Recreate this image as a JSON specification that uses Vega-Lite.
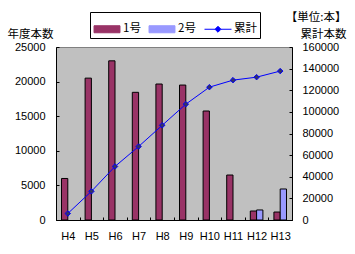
{
  "$schema": "https://vega.github.io/schema/vega-lite/v6.json",
  "width": 236,
  "height": 173,
  "autosize": "none",
  "padding": {"left": 56, "top": 47, "right": 63, "bottom": 34},
  "background": "white",
  "datasets": {
    "bars": [
      {"year": "H4", "series": "1号", "value": 6000},
      {"year": "H5", "series": "1号", "value": 20500},
      {"year": "H6", "series": "1号", "value": 23000},
      {"year": "H7", "series": "1号", "value": 18450},
      {"year": "H8", "series": "1号", "value": 19650},
      {"year": "H9", "series": "1号", "value": 19500},
      {"year": "H10", "series": "1号", "value": 15750},
      {"year": "H11", "series": "1号", "value": 6500},
      {"year": "H12", "series": "1号", "value": 1300},
      {"year": "H13", "series": "1号", "value": 1150},
      {"year": "H12", "series": "2号", "value": 1450},
      {"year": "H13", "series": "2号", "value": 4480}
    ],
    "cum": [
      {"year": "H4", "series": "累計", "total": 6000},
      {"year": "H5", "series": "累計", "total": 26500},
      {"year": "H6", "series": "累計", "total": 49500},
      {"year": "H7", "series": "累計", "total": 67950},
      {"year": "H8", "series": "累計", "total": 87600},
      {"year": "H9", "series": "累計", "total": 107100},
      {"year": "H10", "series": "累計", "total": 122850},
      {"year": "H11", "series": "累計", "total": 129350},
      {"year": "H12", "series": "累計", "total": 132100},
      {"year": "H13", "series": "累計", "total": 137730}
    ]
  },
  "config": {
    "view": {"fill": "#C0C0C0", "stroke": "#808080", "strokeWidth": 1},
    "axis": {
      "labelFont": "Liberation Sans",
      "labelFontSize": 11,
      "labelColor": "black",
      "domainColor": "black",
      "tickColor": "black",
      "grid": false,
      "titleFont": "Noto Sans CJK JP",
      "titleFontSize": 11.5,
      "titleFontWeight": "normal",
      "titleColor": "black"
    },
    "legend": {
      "labelFont": "Noto Sans CJK JP",
      "labelFontSize": 11.5,
      "labelColor": "black"
    }
  },
  "layer": [
    {
      "data": {"name": "bars"},
      "mark": {"type": "bar", "stroke": "black", "strokeWidth": 1},
      "encoding": {
        "x": {
          "field": "year", "type": "nominal", "sort": ["H4","H5","H6","H7","H8","H9","H10","H11","H12","H13"],
          "scale": {"domain": ["H4","H5","H6","H7","H8","H9","H10","H11","H12","H13"], "paddingInner": 0, "paddingOuter": 0},
          "axis": {"title": null, "labelAngle": 0, "tickBand": "extent", "tickSize": -3, "labelPadding": 13, "labelBaseline": "top"}
        },
        "xOffset": {
          "field": "series", "type": "nominal",
          "scale": {"domain": ["1号", "2号"], "paddingInner": 0, "paddingOuter": 0.875}
        },
        "y": {
          "field": "value", "type": "quantitative",
          "scale": {"domain": [0, 25000], "nice": false},
          "axis": {
            "orient": "left",
            "values": [0, 5000, 10000, 15000, 20000, 25000],
            "format": "d",
            "tickSize": -3,
            "labelPadding": 14,
            "title": "年度本数",
            "titleAngle": 0,
            "titleAlign": "left",
            "titleBaseline": "alphabetic",
            "titleX": -49,
            "titleY": -10
          }
        },
        "color": {
          "field": "series", "type": "nominal",
          "scale": {"domain": ["1号", "2号", "累計"], "range": ["#993366", "#9999FF", "#0000FF"]},
          "legend": {
            "title": null,
            "orient": "none",
            "legendX": 34,
            "legendY": -35,
            "direction": "horizontal",
            "symbolSize": 729,
            "symbolStrokeWidth": 1,
            "strokeColor": "black",
            "fillColor": "white",
            "padding": 3,
            "columnPadding": 6,
            "labelOffset": 2,
            "cornerRadius": 0,
            "encoding": {
              "symbols": {
                "shape": {"value": {"expr": "datum.value === '累計' ? 'M-1,0H-0.22M0.22,0H1M0,-0.22L0.22,0L0,0.22L-0.22,0Z' : 'M-0.96,-0.26H0.96V0.26H-0.96Z'"}},
                "fill": {"value": {"expr": "datum.value === '1号' ? '#993366' : datum.value === '2号' ? '#9999FF' : '#333366'"}},
                "stroke": {"value": {"expr": "datum.value === '累計' ? '#0000FF' : 'black'"}},
                "fillOpacity": {"value": 1},
                "opacity": {"value": 1},
                "strokeWidth": {"value": 1}
              }
            }
          }
        }
      }
    },
    {
      "data": {"name": "cum"},
      "encoding": {
        "x": {"field": "year", "type": "nominal", "sort": ["H4","H5","H6","H7","H8","H9","H10","H11","H12","H13"]},
        "y": {
          "field": "total", "type": "quantitative",
          "scale": {"domain": [0, 160000], "nice": false},
          "axis": {
            "orient": "right",
            "values": [0, 20000, 40000, 60000, 80000, 100000, 120000, 140000, 160000],
            "format": "d",
            "tickSize": -3,
            "labelPadding": 13,
            "title": ["【単位:本】", "累計本数"],
            "titleAngle": 0,
            "titleAlign": "right",
            "titleBaseline": "alphabetic",
            "titleLineHeight": 17,
            "titleX": 54,
            "titleY": -27
          }
        }
      },
      "layer": [
        {
          "mark": {"type": "line", "strokeWidth": 1},
          "encoding": {
            "color": {"field": "series", "type": "nominal"}
          }
        },
        {
          "mark": {"type": "point", "shape": "diamond", "filled": true, "fill": "#333366", "stroke": "#0000FF", "strokeWidth": 1, "size": 30, "opacity": 1}
        }
      ]
    }
  ],
  "resolve": {"scale": {"y": "independent"}}
}
